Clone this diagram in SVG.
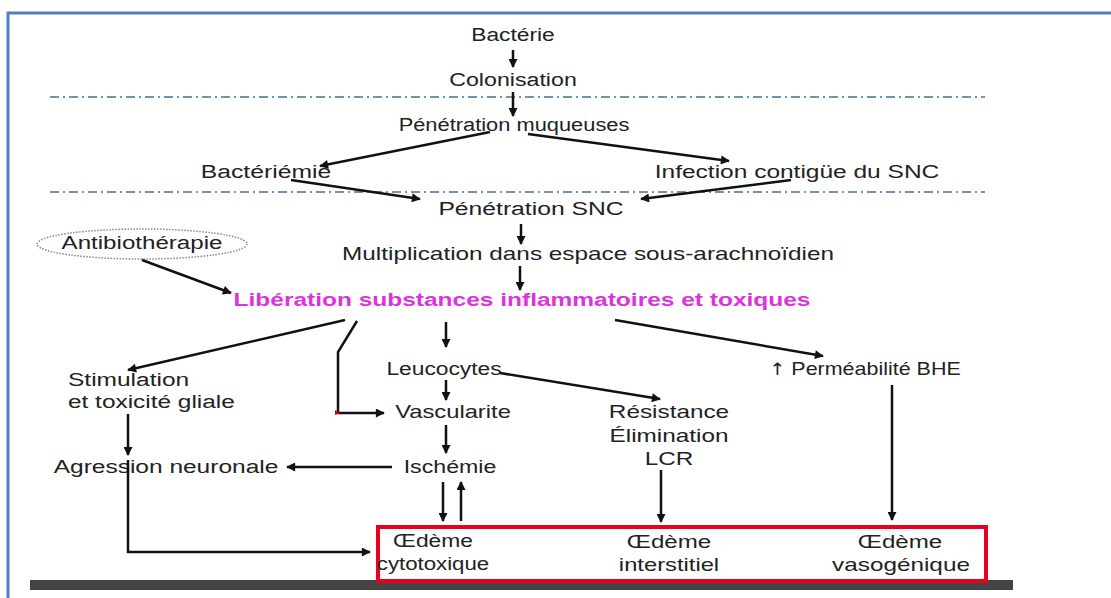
<svg xmlns="http://www.w3.org/2000/svg" width="1111" height="598" viewBox="0 0 1111 598">
<defs>
<style>
text{font-family:"Liberation Sans",Arial,sans-serif;font-size:19px;fill:#222;text-anchor:middle}
.l{text-anchor:start}
.mag{fill:#dd33dd;font-weight:bold}
.up{font-family:"DejaVu Sans",sans-serif;font-size:17px}
.c{stroke:#111;stroke-width:2.5;fill:none;marker-end:url(#ah)}
.sep{stroke:#6f93b3;stroke-width:2;stroke-dasharray:9 4 2 4;fill:none}
</style>
<marker id="ah" viewBox="0 0 10 10" refX="9" refY="5" markerWidth="11" markerHeight="9" markerUnits="userSpaceOnUse" orient="auto">
<path d="M0,0 L10,5 L0,10 z" fill="#111"/>
</marker>
</defs>
<rect width="1111" height="598" fill="#fff"/>
<path d="M8,598 V13 H1111" stroke="#4f81bd" stroke-width="3" fill="none"/>
<line class="sep" x1="50" y1="97" x2="985" y2="97"/>
<line class="sep" x1="50" y1="192" x2="985" y2="192"/>
<rect x="30" y="580" width="983" height="10" fill="#444"/>

<g id="n-bacterie"><text transform="translate(513,41) scale(1.2,1)">Bactérie</text></g>
<g id="n-colonisation"><text transform="translate(513,86) scale(1.22,1)">Colonisation</text></g>
<g id="n-penmuq"><text transform="translate(514,131) scale(1.15,1)">Pénétration muqueuses</text></g>
<g id="n-bacteriemie"><text transform="translate(266,178) scale(1.3,1)">Bactériémie</text></g>
<g id="n-infection"><text transform="translate(797,178) scale(1.29,1)">Infection contigüe du SNC</text></g>
<g id="n-pensnc"><text transform="translate(531,215) scale(1.3,1)">Pénétration SNC</text></g>
<g id="n-multi"><text transform="translate(588,260) scale(1.28,1)">Multiplication dans espace sous-arachnoïdien</text></g>
<g id="n-antibio">
<ellipse cx="142" cy="244" rx="105" ry="15" fill="none" stroke="#888" stroke-width="1.5" stroke-dasharray="1.5 1.5"/>
<text transform="translate(142,249) scale(1.27,1)">Antibiothérapie</text>
</g>
<g id="n-liberation"><text class="mag" transform="translate(522,306) scale(1.29,1)">Libération substances inflammatoires et toxiques</text></g>
<g id="n-stimulation">
<text class="l" transform="translate(68,386) scale(1.29,1)">Stimulation</text>
<text class="l" transform="translate(68,408) scale(1.285,1)">et toxicité gliale</text>
</g>
<g id="n-agression"><text transform="translate(166,473) scale(1.29,1)">Agression neuronale</text></g>
<g id="n-leucocytes"><text transform="translate(444,375) scale(1.2,1)">Leucocytes</text></g>
<g id="n-vascularite"><text transform="translate(453,418) scale(1.25,1)">Vascularite</text></g>
<g id="n-ischemie"><text transform="translate(450,473) scale(1.22,1)">Ischémie</text></g>
<g id="n-resistance">
<text transform="translate(669,418) scale(1.28,1)">Résistance</text>
<text transform="translate(669,442) scale(1.28,1)">Élimination</text>
<text transform="translate(669,465) scale(1.28,1)">LCR</text>
</g>
<g id="n-permeabilite"><text transform="translate(865,375) scale(1.13,1)"><tspan class="up">↑</tspan> Perméabilité BHE</text></g>
<g id="n-oedemes">
<rect x="378" y="527" width="608" height="54" fill="none" stroke="#e8001c" stroke-width="4"/>
<g id="n-cytotoxique">
<text transform="translate(433,547) scale(1.2,1)">Œdème</text>
<text transform="translate(433,570) scale(1.17,1)">cytotoxique</text>
</g>
<g id="n-interstitiel">
<text transform="translate(669,548) scale(1.27,1)">Œdème</text>
<text transform="translate(669,571) scale(1.25,1)">interstitiel</text>
</g>
<g id="n-vasogenique">
<text transform="translate(900,548) scale(1.27,1)">Œdème</text>
<text transform="translate(901,571) scale(1.28,1)">vasogénique</text>
</g>
</g>

<g id="connectors">
<line class="c" x1="513" y1="50" x2="513" y2="67"/>
<line class="c" x1="513" y1="92" x2="513" y2="116"/>
<line class="c" x1="490" y1="132" x2="320" y2="166"/>
<line class="c" x1="528" y1="134" x2="729" y2="161"/>
<line class="c" x1="291" y1="180" x2="420" y2="199"/>
<line class="c" x1="791" y1="180" x2="641" y2="199"/>
<line class="c" x1="521" y1="224" x2="521" y2="244"/>
<line class="c" x1="520" y1="266" x2="520" y2="290"/>
<line class="c" x1="142" y1="260" x2="231" y2="293"/>
<line class="c" x1="345" y1="320" x2="128" y2="370"/>
<polyline class="c" points="357,321 338,352 338,413 384,413"/>
<line class="c" x1="446" y1="322" x2="446" y2="347"/>
<line class="c" x1="615" y1="320" x2="823" y2="356"/>
<line class="c" x1="446" y1="380" x2="446" y2="400"/>
<line class="c" x1="500" y1="373" x2="660" y2="399"/>
<line class="c" x1="128" y1="414" x2="128" y2="455"/>
<line class="c" x1="446" y1="425" x2="446" y2="453"/>
<line class="c" x1="392" y1="467" x2="287" y2="467"/>
<line class="c" x1="443" y1="482" x2="443" y2="521"/>
<line class="c" x1="461" y1="521" x2="461" y2="482"/>
<polyline class="c" points="128,460 128,552 370,552"/>
<line class="c" x1="661" y1="470" x2="661" y2="522"/>
<line class="c" x1="892" y1="385" x2="892" y2="520"/>
<path d="M335,410 L340,413 L335,415 z" fill="#d00"/>
</g>
</svg>
